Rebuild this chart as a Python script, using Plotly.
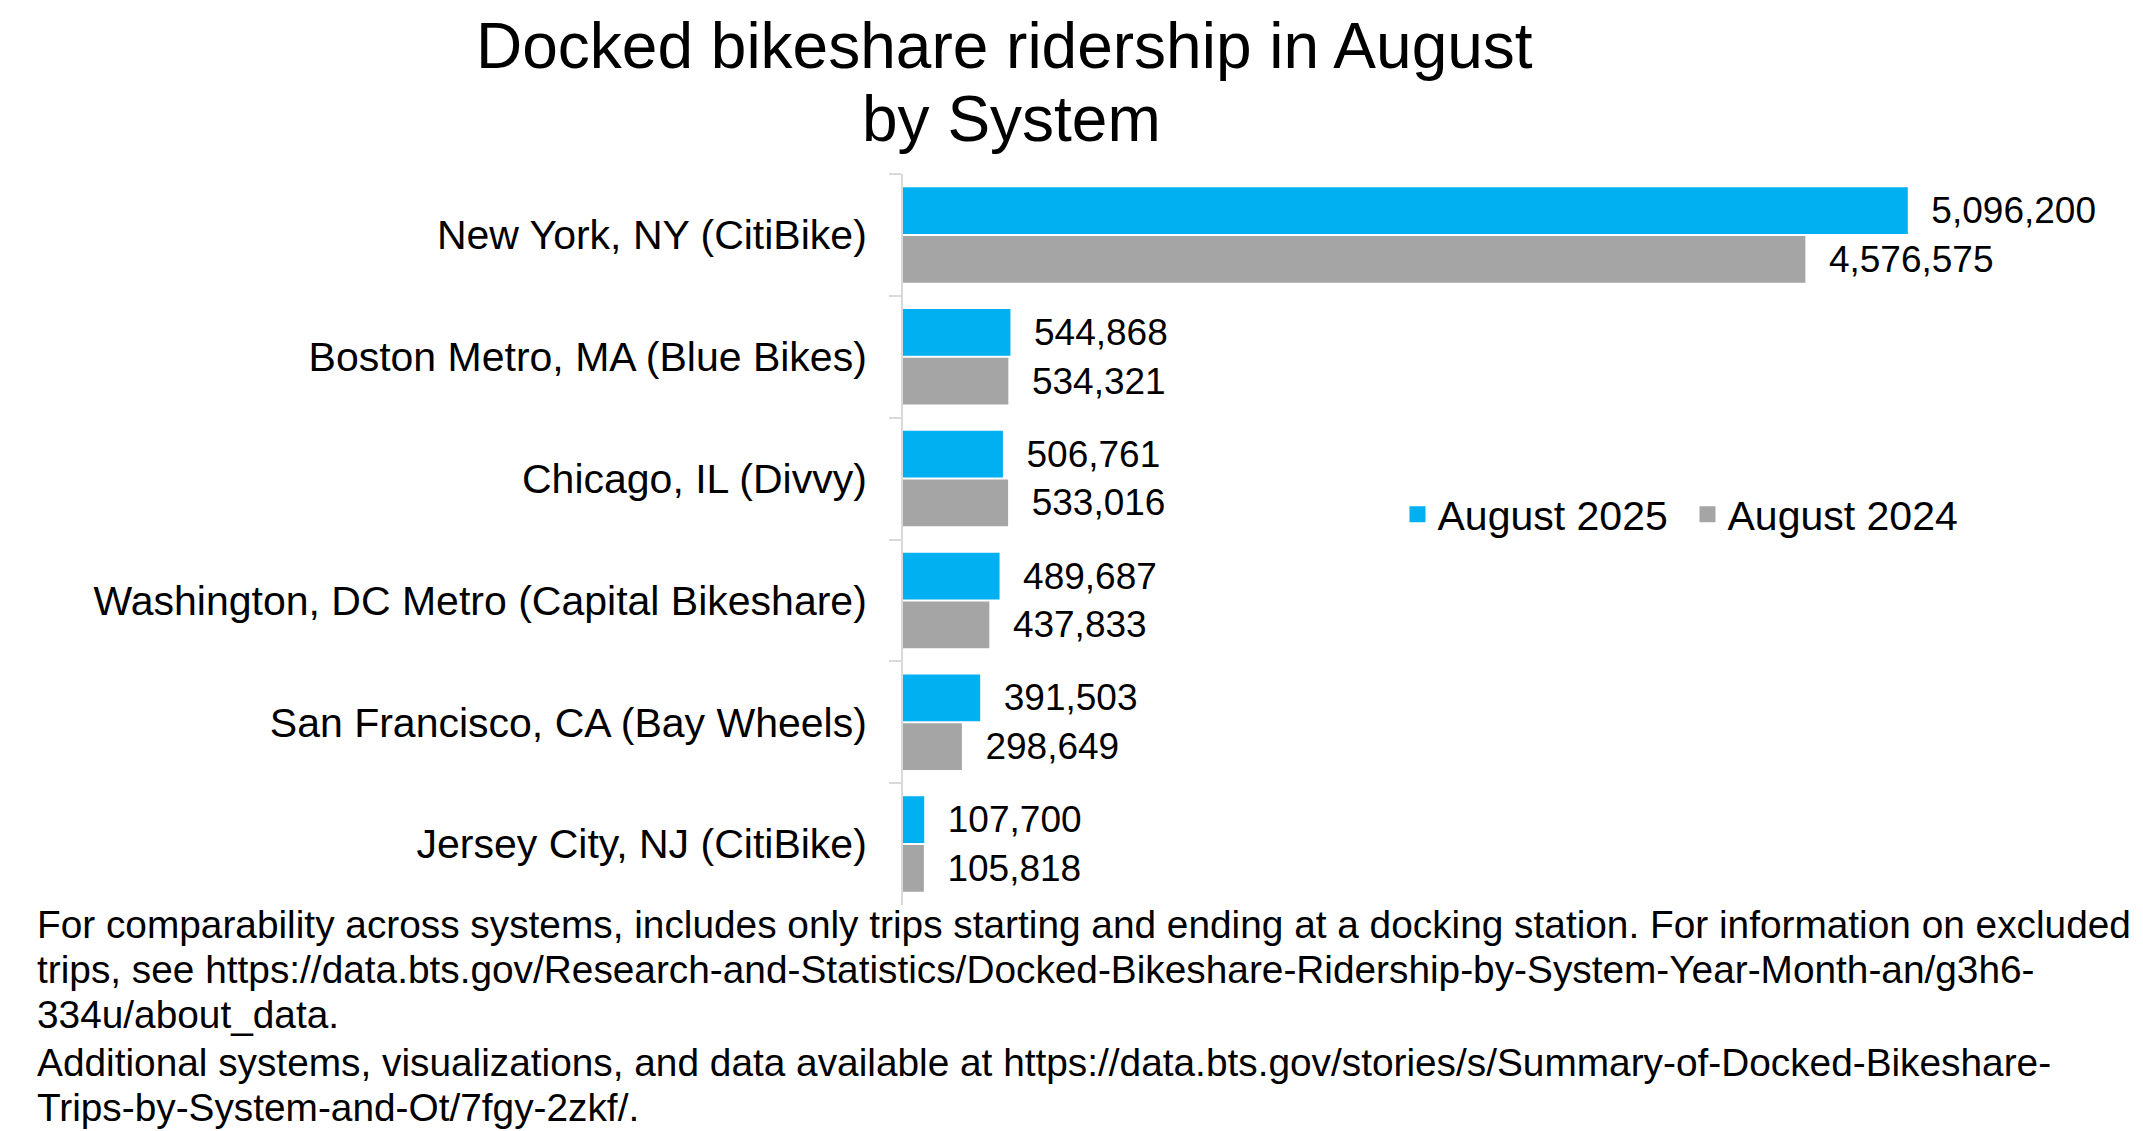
import plotly.graph_objects as go

systems = [
    "New York, NY (CitiBike)",
    "Boston Metro, MA (Blue Bikes)",
    "Chicago, IL (Divvy)",
    "Washington, DC Metro (Capital Bikeshare)",
    "San Francisco, CA (Bay Wheels)",
    "Jersey City, NJ (CitiBike)",
]
aug_2025 = [5096200, 544868, 506761, 489687, 391503, 107700]
aug_2024 = [4576575, 534321, 533016, 437833, 298649, 105818]
series_names = ["August 2025", "August 2024"]

title_lines = ["Docked bikeshare ridership in August", "by System"]
note_lines = [
    "For comparability across systems, includes only trips starting and ending at a docking station. For information on excluded",
    "trips, see https://data.bts.gov/Research-and-Statistics/Docked-Bikeshare-Ridership-by-System-Year-Month-an/g3h6-",
    "334u/about_data.",
    "Additional systems, visualizations, and data available at https://data.bts.gov/stories/s/Summary-of-Docked-Bikeshare-",
    "Trips-by-System-and-Ot/7fgy-2zkf/.",
]

font_name = "Liberation Sans, Arial, sans-serif"
colors = ["#00B0F0", "#A5A5A5"]

fig = go.Figure()
for name, vals, col in zip(series_names, [aug_2025, aug_2024], colors):
    fig.add_trace(go.Bar(
        y=systems, x=vals, name=name, orientation="h",
        marker_color=col, marker_line_width=0,
        texttemplate="\u00a0\u00a0%{x:,}", textposition="outside",
        textfont=dict(size=37, color="black"), cliponaxis=False,
        showlegend=False,
    ))
# legend entries with bigger square swatches
for name, col in zip(series_names, colors):
    fig.add_trace(go.Scatter(
        x=[None], y=[None], mode="markers", name=name,
        marker=dict(symbol="square", size=16, color=col),
    ))

fig.update_layout(
    width=2143,
    height=1131,
    barmode="group",
    bargap=0.2,
    bargroupgap=0.04,
    paper_bgcolor="white",
    plot_bgcolor="white",
    font=dict(family=font_name, size=41, color="black"),
    margin=dict(l=903, r=57, t=174, b=226),
    legend=dict(
        orientation="h",
        x=0.418, xanchor="left",
        y=0.534, yanchor="middle",
        font=dict(size=41),
        entrywidth=245,
        bgcolor="rgba(0,0,0,0)",
    ),
    showlegend=True,
)
fig.update_xaxes(range=[0, 6000000], visible=False)
fig.update_yaxes(
    autorange="reversed",
    showline=True, linecolor="#D9D9D9", linewidth=2,
    ticks="outside", tickson="boundaries", ticklen=12, tickcolor="#D9D9D9", tickwidth=2,
    ticklabelstandoff=26,
    showgrid=False,
)

# title, two centred lines
for txt, xx, yy in zip(title_lines, [0.0854, 0.0921], [1.1751, 1.0752]):
    fig.add_annotation(
        text=txt, xref="paper", yref="paper", x=xx, y=yy,
        xanchor="center", yanchor="middle", showarrow=False,
        font=dict(size=64, color="black"),
    )

# footnotes, one annotation per line
for txt, yy in zip(note_lines, [-0.0262, -0.0877, -0.1493, -0.2159, -0.2775]):
    fig.add_annotation(
        text=txt, xref="paper", yref="paper", x=-0.734, y=yy,
        xanchor="left", yanchor="middle", align="left", showarrow=False,
        font=dict(size=38.8, color="black"),
    )

fig.write_html("out.html", config={"displayModeBar": False},
               post_script="document.body.style.margin='0';")
